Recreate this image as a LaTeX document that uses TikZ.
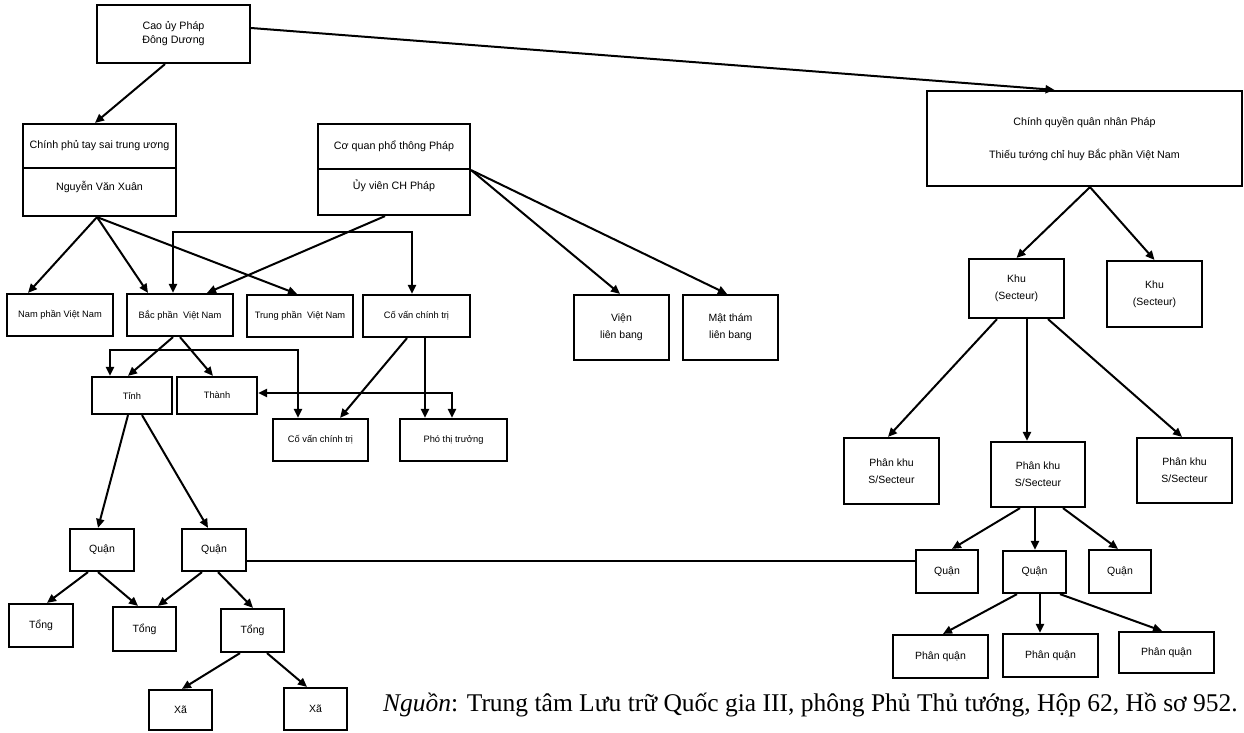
\documentclass[tikz,border=0pt]{standalone}
\usepackage{fontspec}
\setmainfont{Liberation Serif}
\newfontfamily\boxfont{Liberation Sans}
\usetikzlibrary{arrows.meta,calc}
\begin{document}
\begin{tikzpicture}[x=1pt,y=-1pt,
  bx/.style={draw, line width=2.2pt, inner sep=1pt, align=center},
  fa/.style={font={\boxfont\fontsize{10.7}{14}\selectfont}},
  fb/.style={font={\boxfont\fontsize{9.3}{12}\selectfont}},
  fc/.style={font={\boxfont\fontsize{10.5}{17}\selectfont}},
  ln/.style={line width=2pt},
  ar/.style={line width=2pt, -{Triangle[length=9pt,width=8pt]}},
  dar/.style={line width=2pt, {Triangle[length=9pt,width=8pt]}-{Triangle[length=9pt,width=8pt]}}
]
\useasboundingbox (0,0) rectangle (1244,732);
% top left
\node[bx,fa,minimum width=153pt,minimum height=58pt] (cao) at (173.5,34) {Cao ủy Pháp\\Đông Dương};
\node[bx,fa,minimum width=153pt,minimum height=44pt] (cpA) at (99.5,146) {Chính phủ tay sai trung ương};
\node[bx,fa,minimum width=153pt,minimum height=48pt,text depth=12pt] (cpB) at (99.5,192) {Nguyễn Văn Xuân};
\node[bx,fa,minimum width=152pt,minimum height=45pt] (cqA) at (394,146.5) {Cơ quan phổ thông Pháp};
\node[bx,fa,minimum width=152pt,minimum height=46pt,text depth=14pt] (cqB) at (394,192) {Ủy viên CH Pháp};
% middle row
\node[bx,fb,minimum width=106pt,minimum height=42pt] (nam) at (60,315) {Nam phần Việt Nam};
\node[bx,fb,minimum width=106pt,minimum height=42pt] (bac) at (180,315) {Bắc phần\ \ Việt Nam};
\node[bx,fb,minimum width=106pt,minimum height=42pt] (trung) at (300,316) {Trung phần\ \ Việt Nam};
\node[bx,fb,minimum width=107pt,minimum height=42pt] (cv1) at (416.5,316) {Cố vấn chính trị};
\node[bx,fc,minimum width=95pt,minimum height=65pt] (vien) at (621.5,327.5) {Viện\\liên bang};
\node[bx,fc,minimum width=95pt,minimum height=65pt] (mat) at (730.5,327.5) {Mật thám\\liên bang};
\node[bx,fb,minimum width=80pt,minimum height=37pt] (tinh) at (132,395.5) {Tỉnh};
\node[bx,fb,minimum width=80pt,minimum height=37pt] (thanh) at (217,395.5) {Thành};
\node[bx,fb,minimum width=95pt,minimum height=42pt] (cv2) at (320.5,440) {Cố vấn chính trị};
\node[bx,fb,minimum width=107pt,minimum height=42pt] (pho) at (453.5,440) {Phó thị trưởng};
% bottom left
\node[bx,fc,minimum width=64pt,minimum height=42pt] (quan1) at (102,550) {Quận};
\node[bx,fc,minimum width=64pt,minimum height=42pt] (quan2) at (214,550) {Quận};
\node[bx,fc,minimum width=64pt,minimum height=43pt] (tong1) at (41,625.5) {Tổng};
\node[bx,fc,minimum width=63pt,minimum height=44pt] (tong2) at (144.5,629) {Tổng};
\node[bx,fc,minimum width=63pt,minimum height=43pt] (tong3) at (252.5,630.5) {Tổng};
\node[bx,fc,minimum width=63pt,minimum height=40pt] (xa1) at (180.5,710) {Xã};
\node[bx,fc,minimum width=63pt,minimum height=42pt] (xa2) at (315.5,709) {Xã};
% right
\node[bx,font={\boxfont\fontsize{10.7}{33}\selectfont},minimum width=315pt,minimum height=95pt] (cqn) at (1084.5,138.5) {Chính quyền quân nhân Pháp\\Thiếu tướng chỉ huy Bắc phần Việt Nam};
\node[bx,fc,minimum width=95pt,minimum height=59pt] (khu1) at (1016.5,288.5) {Khu\\(Secteur)};
\node[bx,fc,minimum width=95pt,minimum height=66pt] (khu2) at (1154.5,294) {Khu\\(Secteur)};
\node[bx,fc,minimum width=95pt,minimum height=66pt] (pk1) at (891.5,471) {Phân khu\\S/Secteur};
\node[bx,fc,minimum width=94pt,minimum height=65pt] (pk2) at (1038,474.5) {Phân khu\\S/Secteur};
\node[bx,fc,minimum width=95pt,minimum height=65pt] (pk3) at (1184.5,470.5) {Phân khu\\S/Secteur};
\node[bx,fc,minimum width=62pt,minimum height=43pt] (rq1) at (947,571.5) {Quận};
\node[bx,fc,minimum width=63pt,minimum height=42pt] (rq2) at (1034.5,572) {Quận};
\node[bx,fc,minimum width=62pt,minimum height=43pt] (rq3) at (1120,571.5) {Quận};
\node[bx,fc,minimum width=95pt,minimum height=43pt] (pq1) at (940.5,656.5) {Phân quận};
\node[bx,fc,minimum width=95pt,minimum height=43pt] (pq2) at (1050.5,655.5) {Phân quận};
\node[bx,fc,minimum width=95pt,minimum height=41pt] (pq3) at (1166.5,652.5) {Phân quận};
% caption
\node[anchor=west, inner sep=0pt, font=\fontsize{25.5}{30}\selectfont] (src) at (383,705) {\textit{Nguồn}: Trung tâm Lưu trữ Quốc gia III, phông Phủ Thủ tướng, Hộp 62, Hồ sơ 952.};
% connectors
\draw[ar] ([xshift=-8.5pt]cao.south) -- ([xshift=-4.5pt]cpA.north);
\draw[ar] ([yshift=6pt]cao.east) -- ([xshift=-30pt]cqn.north);
\draw[ar] ([xshift=-2.5pt]cpB.south) -- ([xshift=-32pt]nam.north);
\draw[ar] ([xshift=-2.5pt]cpB.south) -- ([xshift=-32pt]bac.north);
\draw[ar] ([xshift=-2.5pt]cpB.south) -- ([xshift=-3pt]trung.north);
\draw[ar] ([xshift=-9pt]cqB.south) -- ([xshift=27pt]bac.north);
\draw[dar] ([xshift=-7pt]bac.north) -- ++(0,-61) -| ([xshift=-4.5pt]cv1.north);
\draw[ar] (cqA.south east) -- ([xshift=-1.5pt]vien.north);
\draw[ar] (cqA.south east) -- ([xshift=-3.5pt]mat.north);
\draw[ar] ([xshift=-7pt]bac.south) -- ([xshift=-4pt]tinh.north);
\draw[ar] ([xshift=0pt]bac.south) -- ([xshift=-4pt]thanh.north);
\draw[dar] ([xshift=-22pt]tinh.north) -- ++(0,-26) -| ([xshift=-22.5pt]cv2.north);
\draw[dar] ([yshift=2.5pt]thanh.east) -| ([xshift=-1.5pt]pho.north);
\draw[ar] ([xshift=-9.5pt]cv1.south) -- ([xshift=19.5pt]cv2.north);
\draw[ar] ([xshift=8.5pt]cv1.south) -- ([xshift=8.5pt]cv1.south |- pho.north);
\draw[ar] ([xshift=-4pt]tinh.south) -- ([xshift=-4pt]quan1.north);
\draw[ar] ([xshift=10pt]tinh.south) -- ([xshift=-6pt]quan2.north);
\draw[ar] ([xshift=-14pt]quan1.south) -- ([xshift=6pt]tong1.north);
\draw[ar] ([xshift=-4pt]quan1.south) -- ([xshift=-6.5pt]tong2.north);
\draw[ar] ([xshift=-12pt]quan2.south) -- ([xshift=13.5pt]tong2.north);
\draw[ar] ([xshift=4pt]quan2.south) -- ([xshift=0.5pt]tong3.north);
\draw[ar] ([xshift=-12.5pt]tong3.south) -- ([xshift=1.5pt]xa1.north);
\draw[ar] ([xshift=14.5pt]tong3.south) -- ([xshift=-8.5pt]xa2.north);
\draw[ln] ([yshift=-11pt]quan2.east) -- ([yshift=-11pt]quan2.east -| rq1.west);
\draw[ar] ([xshift=5.5pt]cqn.south) -- (khu1.north);
\draw[ar] ([xshift=5.5pt]cqn.south) -- (khu2.north);
\draw[ar] ([xshift=-19.5pt]khu1.south) -- ([xshift=-3.5pt]pk1.north);
\draw[ar] ([xshift=10.5pt]khu1.south) -- ([xshift=10.5pt]khu1.south |- pk2.north);
\draw[ar] ([xshift=31.5pt]khu1.south) -- ([xshift=-2.5pt]pk3.north);
\draw[ar] ([xshift=-18pt]pk2.south) -- ([xshift=5pt]rq1.north);
\draw[ar] ([xshift=-3pt]pk2.south) -- ([xshift=-3pt]pk2.south |- rq2.north);
\draw[ar] ([xshift=25pt]pk2.south) -- ([xshift=-2pt]rq3.north);
\draw[ar] ([xshift=-17.5pt]rq2.south) -- ([xshift=2.5pt]pq1.north);
\draw[ar] ([xshift=5.5pt]rq2.south) -- ([xshift=5.5pt]rq2.south |- pq2.north);
\draw[ar] ([xshift=25.5pt]rq2.south) -- ([xshift=-4.5pt]pq3.north);
\end{tikzpicture}
\end{document}
